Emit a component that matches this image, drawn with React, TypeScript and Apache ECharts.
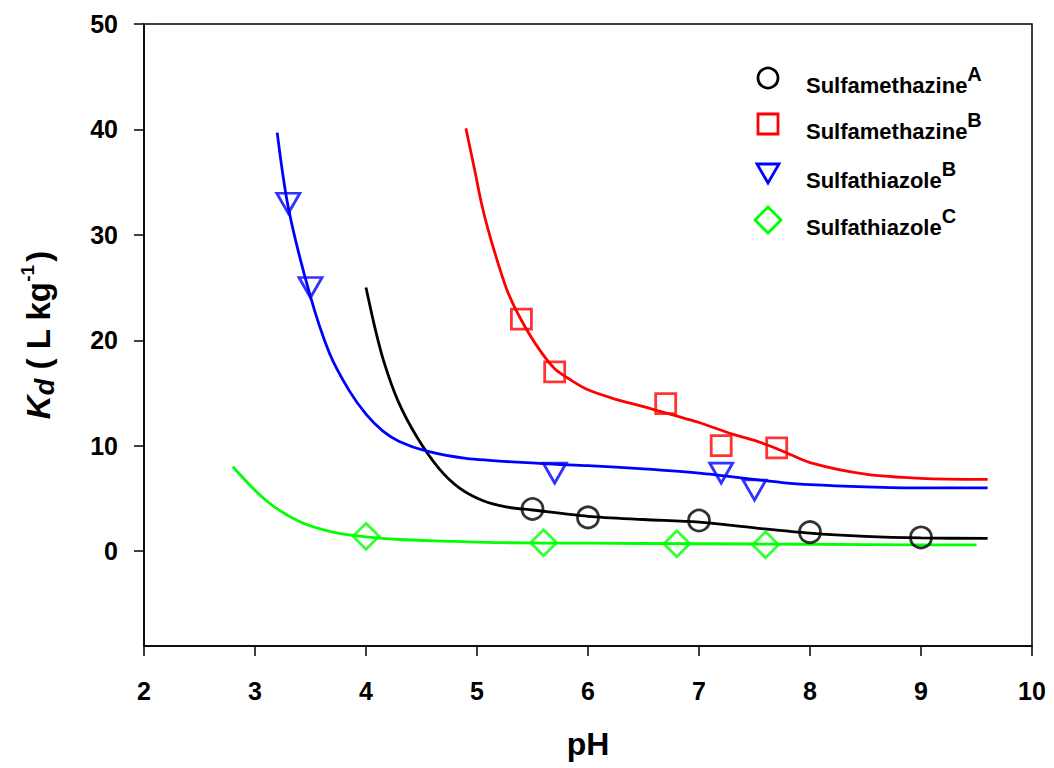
import React, { useEffect, useRef } from "react";
import * as echarts from "echarts";

// Measured sorption points (pH, Kd)
const smaPH = [5.5, 6, 7, 8, 9];
const smaKd = [4.0, 3.2, 2.9, 1.8, 1.3];
const smbPH = [5.4, 5.7, 6.7, 7.2, 7.7];
const smbKd = [22, 17, 14, 10, 9.8];
const stbPH = [3.3, 3.5, 5.7, 7.2, 7.5];
const stbKd = [33, 25, 7.4, 7.4, 5.8];
const stcPH = [4.0, 5.6, 6.8, 7.6];
const stcKd = [1.4, 0.8, 0.7, 0.6];

// Fitted curves (pH, Kd)
const smaFitPH = [4.0, 4.08, 4.16, 4.29, 4.46, 4.66, 4.84, 5.05, 5.26, 5.5, 6.0, 6.5, 7.0, 7.5, 8.0, 8.5, 9.0, 9.6];
const smaFitKd = [25.0, 21.2, 18.0, 14.2, 10.8, 7.8, 6.0, 4.8, 4.2, 3.9, 3.3, 3.0, 2.75, 2.2, 1.7, 1.4, 1.25, 1.2];
const smbFitPH = [4.9, 4.98, 5.04, 5.1, 5.19, 5.28, 5.4, 5.55, 5.7, 5.85, 6.0, 6.25, 6.5, 7.0, 7.3, 7.5, 7.75, 8.0, 8.5, 9.0, 9.6];
const smbFitKd = [40.1, 36.1, 33.0, 30.5, 27.3, 24.5, 21.9, 19.3, 17.3, 16.2, 15.3, 14.4, 13.7, 12.2, 11.1, 10.5, 9.5, 8.4, 7.3, 6.9, 6.8];
const stbFitPH = [3.2, 3.3, 3.49, 3.67, 3.85, 4.0, 4.15, 4.3, 4.54, 4.9, 5.59, 6.0, 6.5, 7.0, 7.5, 7.75, 8.0, 8.5, 9.0, 9.6];
const stbFitKd = [39.7, 32.6, 24.5, 18.8, 15.2, 13.0, 11.4, 10.4, 9.5, 8.8, 8.3, 8.1, 7.8, 7.4, 6.8, 6.5, 6.3, 6.1, 6.0, 6.0];
const stcFitPH = [2.8, 3.1, 3.4, 3.7, 4.0, 4.3, 4.7, 5.2, 6.0, 7.0, 8.0, 9.0, 9.5];
const stcFitKd = [8.0, 4.8, 2.8, 1.8, 1.35, 1.1, 0.95, 0.8, 0.75, 0.7, 0.65, 0.6, 0.6];

const yTicks = [0, 10, 20, 30, 40, 50];

const legendNames = ["Sulfamethazine", "Sulfamethazine", "Sulfathiazole", "Sulfathiazole"];
const legendSups = ["A", "B", "B", "C"];

const FONT = "'Liberation Sans', Arial, Helvetica, sans-serif";
const BLACK = "#000000";
const RED = "#ff0000";
const BLUE = "#0000ff";
const GREEN = "#00ff00";

const pairs = (xs: number[], ys: number[]) => xs.map((x, i) => [x, ys[i]]);

export default function App() {
  const ref = useRef<HTMLDivElement>(null);

  useEffect(() => {
    if (!ref.current) return;
    const chart = echarts.init(ref.current, null, { renderer: "svg" });

    const lineSeries = (name: string, xs: number[], ys: number[], color: string) => ({
      name,
      type: "line",
      data: pairs(xs, ys),
      smooth: 0.3,
      showSymbol: false,
      symbol: "none",
      lineStyle: { color, width: 2.8 },
      z: 2,
    });

    const pointSeries = (
      name: string,
      xs: number[],
      ys: number[],
      color: string,
      symbol: string,
      size: number | number[],
      rotate = 0
    ) => ({
      name,
      type: "scatter",
      data: pairs(xs, ys),
      symbol,
      symbolSize: size,
      symbolRotate: rotate,
      itemStyle: { color: "rgba(0,0,0,0)", borderColor: color, borderWidth: 2.8 },
      z: 3,
    });

    // Legend built from graphic shapes and rich text
    const legendX = 768;
    const legendRows = [78, 124, 173, 220];
    const legendColors = [BLACK, RED, BLUE, GREEN];
    const legendGraphics: any[] = [];
    legendRows.forEach((cy, i) => {
      const stroke = { fill: "none", stroke: legendColors[i], lineWidth: 2.8 };
      if (i === 0) {
        legendGraphics.push({ type: "circle", shape: { cx: legendX, cy, r: 10 }, style: stroke });
      } else if (i === 1) {
        legendGraphics.push({ type: "rect", shape: { x: legendX - 10, y: cy - 10, width: 20, height: 20 }, style: stroke });
      } else if (i === 2) {
        legendGraphics.push({
          type: "polygon",
          shape: { points: [[legendX - 11, cy - 9], [legendX + 11, cy - 9], [legendX, cy + 10]] },
          style: stroke,
        });
      } else {
        legendGraphics.push({
          type: "polygon",
          shape: { points: [[legendX, cy - 13], [legendX + 13, cy], [legendX, cy + 13], [legendX - 13, cy]] },
          style: stroke,
        });
      }
      legendGraphics.push({
        type: "text",
        x: 806,
        y: cy - 14,
        style: {
          text: `{m|${legendNames[i]}}{s|${legendSups[i]}}`,
          rich: {
            m: { fontFamily: FONT, fontWeight: "bold", fontSize: 22, lineHeight: 42, fill: BLACK },
            s: { fontFamily: FONT, fontWeight: "bold", fontSize: 20, lineHeight: 20, verticalAlign: "top", fill: BLACK },
          },
        },
      });
    });

    chart.setOption({
      animation: false,
      backgroundColor: "#ffffff",
      grid: {
        left: 144,
        right: 22,
        top: 24,
        bottom: 122,
        show: true,
        borderColor: BLACK,
        borderWidth: 1.5,
        backgroundColor: "transparent",
      },
      xAxis: {
        type: "value",
        min: 2,
        max: 10,
        interval: 1,
        name: "pH",
        nameLocation: "middle",
        nameGap: 82,
        nameTextStyle: { fontFamily: FONT, fontWeight: "bold", fontSize: 32, color: BLACK },
        axisLine: { show: true, onZero: false, lineStyle: { color: BLACK, width: 1.5 } },
        axisTick: { show: true, inside: false, length: 10, lineStyle: { color: BLACK, width: 1.5 } },
        axisLabel: { fontFamily: FONT, fontWeight: "bold", fontSize: 25, color: BLACK, margin: 32 },
        splitLine: { show: false },
      },
      yAxis: {
        type: "value",
        min: -9,
        max: 50,
        name: "{k|K}{d|d}{n| ( L kg}{p|-1}{n|)}",
        nameLocation: "middle",
        nameRotate: 90,
        nameGap: 86,
        nameTextStyle: {
          rich: {
            k: { fontFamily: FONT, fontWeight: "bold", fontStyle: "italic", fontSize: 33, lineHeight: 40, color: BLACK },
            d: { fontFamily: FONT, fontWeight: "bold", fontStyle: "italic", fontSize: 27, lineHeight: 27, verticalAlign: "bottom", color: BLACK },
            n: { fontFamily: FONT, fontWeight: "bold", fontSize: 33, lineHeight: 40, color: BLACK },
            p: { fontFamily: FONT, fontWeight: "bold", fontSize: 19, lineHeight: 19, verticalAlign: "top", color: BLACK, padding: [0, 3, 0, 0] },
          },
        },
        axisLine: { show: true, onZero: false, lineStyle: { color: BLACK, width: 1.5 } },
        axisTick: { show: true, inside: false, length: 10, customValues: yTicks, lineStyle: { color: BLACK, width: 1.5 } },
        axisLabel: { fontFamily: FONT, fontWeight: "bold", fontSize: 25, color: BLACK, margin: 26, customValues: yTicks },
        splitLine: { show: false },
      },
      graphic: legendGraphics,
      series: [
        lineSeries("Sulfamethazine A fit", smaFitPH, smaFitKd, BLACK),
        lineSeries("Sulfamethazine B fit", smbFitPH, smbFitKd, RED),
        lineSeries("Sulfathiazole B fit", stbFitPH, stbFitKd, BLUE),
        lineSeries("Sulfathiazole C fit", stcFitPH, stcFitKd, GREEN),
        pointSeries("Sulfamethazine A", smaPH, smaKd, BLACK, "circle", 21),
        pointSeries("Sulfamethazine B", smbPH, smbKd, RED, "rect", 20),
        pointSeries("Sulfathiazole B", stbPH, stbKd, BLUE, "triangle", [23, 20], 180),
        pointSeries("Sulfathiazole C", stcPH, stcKd, GREEN, "diamond", 26),
      ],
    });

    return () => chart.dispose();
  }, []);

  return (
    <div
      ref={ref}
      style={{ position: "absolute", left: 0, top: 0, width: 1054, height: 768, background: "#ffffff" }}
    />
  );
}
